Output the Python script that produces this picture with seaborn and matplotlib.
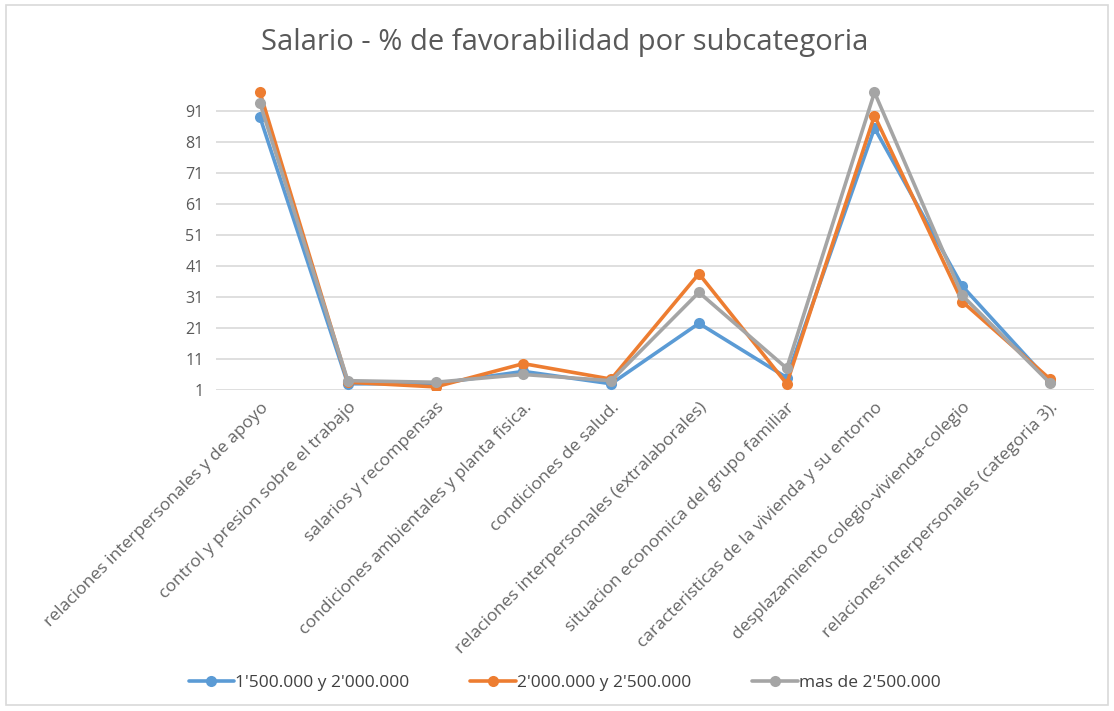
import matplotlib
matplotlib.use("Agg")
import matplotlib.pyplot as plt
import seaborn as sns
import pandas as pd
from matplotlib.patches import Rectangle

categories = [
    "relaciones interpersonales y de apoyo",
    "control y presion sobre el trabajo",
    "salarios y recompensas",
    "condiciones ambientales y planta fisica.",
    "condiciones de salud.",
    "relaciones interpersonales (extralaborales)",
    "situacion economica del grupo familiar",
    "caracteristicas de la vivienda y su entorno",
    "desplazamiento colegio-vivienda-colegio",
    "relaciones interpersonales (categoria 3).",
]
series_names = ["1'500.000 y 2'000.000", "2'000.000 y 2'500.000", "mas de 2'500.000"]
s1 = [89, 3, 3, 7, 3, 22.5, 5, 85.5, 34.5, 3.5]
s2 = [97, 3.5, 2, 9.5, 4.5, 38.5, 3, 89.5, 29.5, 4.5]
s3 = [93.5, 4, 3.5, 6, 4, 32.5, 8, 97, 31.5, 3.2]
yticks = [1, 11, 21, 31, 41, 51, 61, 71, 81, 91]
colors = ["#5B9BD5", "#ED7D31", "#A5A5A5"]

rows = []
for name, vals in zip(series_names, [s1, s2, s3]):
    for c, v in zip(categories, vals):
        rows.append({"cat": c, "val": v, "serie": name})
df = pd.DataFrame(rows)

sns.set_theme(style="white")
plt.rcParams["font.family"] = ["Open Sans", "DejaVu Sans"]

fig = plt.figure(figsize=(11.14, 7.11), dpi=100)
ax = fig.add_axes([0.194, 0.4515, 0.788, 0.436])

sns.lineplot(data=df, x="cat", y="val", hue="serie", palette=colors,
             marker="o", markersize=8, markeredgewidth=0, linewidth=2.6,
             sort=False, ax=ax, legend=True)

ax.set_xlim(-0.5, len(categories) - 0.5)
ax.set_ylim(1, 101)
ax.set_yticks(yticks)
ax.set_yticklabels([str(t) for t in yticks], fontsize=11.5, color="#595959")
ax.yaxis.grid(True, color="#D9D9D9", linewidth=1.2)
ax.set_axisbelow(True)
for s in ax.spines.values():
    s.set_visible(False)
ax.tick_params(axis="both", length=0)
ax.tick_params(axis="y", pad=9)
ax.set_xticks(range(len(categories)))
ax.set_xticklabels(categories, rotation=45, ha="right", va="top",
                   rotation_mode="anchor", fontsize=12.6, color="#666666")
ax.tick_params(axis="x", pad=7)
ax.set_xlabel("")
ax.set_ylabel("")

fig.text(0.507, 0.94, "Salario - % de favorabilidad por subcategoria",
         ha="center", va="center", fontsize=21, color="#595959")

handles, labels = ax.get_legend_handles_labels()
ax.legend_.remove()
fig.legend(handles, labels, loc="center", bbox_to_anchor=(0.507, 0.039),
           ncol=3, frameon=False, fontsize=12.5, labelcolor="#404040",
           handlelength=2.6, columnspacing=3.5, handletextpad=0.1)

fig.patches.append(Rectangle((0.005, 0.008), 0.99, 0.985, transform=fig.transFigure,
                             fill=False, edgecolor="#D9D9D9", linewidth=1.2))

fig.savefig("out.png", dpi=100, facecolor="white")
